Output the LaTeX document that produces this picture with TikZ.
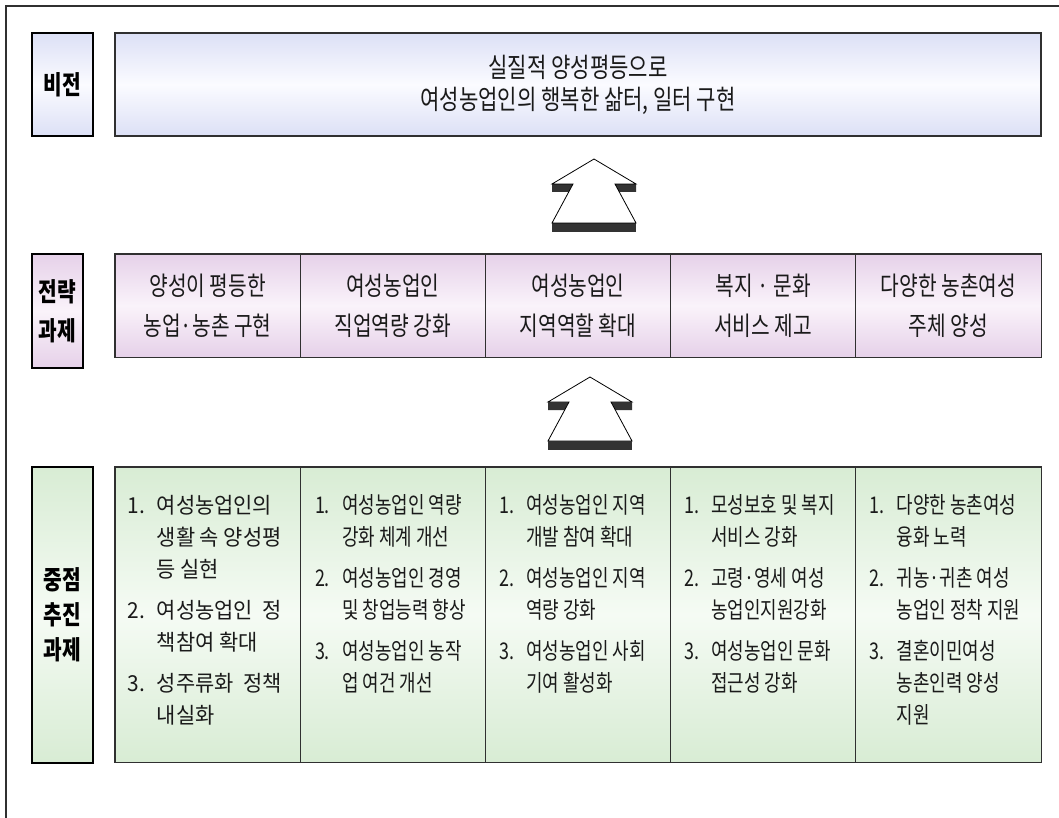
\documentclass[tikz,border=0pt]{standalone}
\usepackage{fontspec}
\newfontfamily\kr[FakeStretch=0.78]{Noto Sans CJK KR}
\newfontfamily\krw[FakeStretch=0.95]{Noto Sans CJK KR}
\usetikzlibrary{calc}
\definecolor{lavtop}{HTML}{DCE0F6}
\definecolor{lavmid}{HTML}{FBFBFF}
\definecolor{pinktop}{HTML}{E6D1E9}
\definecolor{pinkmid}{HTML}{FAF3FA}
\definecolor{greentop}{HTML}{D8ECD4}
\definecolor{greenmid}{HTML}{F5FBF4}
\definecolor{arrowdark}{HTML}{333333}
\definecolor{framecol}{HTML}{303030}
\definecolor{textcol}{HTML}{1A1A1A}
\newcommand\numlab[1]{\makebox[27pt][l]{#1}}
\newcommand\contline{\hspace*{27pt}}
\newcommand\numlabw[1]{\makebox[29pt][l]{#1}}
\newcommand\contlinew{\hspace*{29pt}}
\begin{document}
\begin{tikzpicture}[x=1pt,y=-1pt,
  lavshade/.style={top color=lavtop, bottom color=lavtop, middle color=lavmid},
  pinkshade/.style={top color=pinktop, bottom color=pinktop, middle color=pinkmid},
  greenshade/.style={top color=greentop, bottom color=greentop, middle color=greenmid},
  labelbox/.style={draw=black, line width=2.2pt, inner sep=0pt, align=center, text=black,
    font=\kr\bfseries\fontsize{26}{35}\selectfont},
  mainbox/.style={draw=framecol, line width=1.2pt, inner sep=0pt, text=textcol},
  cell/.style={draw=framecol, line width=0.8pt, inner sep=0pt, minimum width=185.2pt},
  stratcell/.style={cell, pinkshade, minimum height=103pt, align=center, text=textcol,
    font=\kr\fontsize{26}{40}\selectfont},
  taskcell/.style={cell, greenshade, minimum height=295pt},
  celltext/.style={inner sep=0pt, anchor=north west, align=left, text=textcol,
    font=\kr\fontsize{23}{32}\selectfont},
  uparrow/.pic={
    \fill[arrowdark] (-42,25) -- (-21,25) -- (-25,33) -- (-42,33) -- cycle;
    \fill[arrowdark] (42,25) -- (21,25) -- (25,33) -- (42,33) -- cycle;
    \fill[arrowdark] (-42,64) rectangle (42,73);
    \draw[fill=white, line width=0.8pt, line join=miter]
      (0,0) -- (-42,25) -- (-21,25) -- (-42,64) -- (42,64) -- (21,25) -- (42,25) -- cycle;
  }]
\useasboundingbox (0,0) rectangle (1059,818);
\draw[framecol, line width=1.2pt] (1059,6) -- (6,6) -- (6,818);

% vision row
\node[labelbox, lavshade, minimum width=61pt, minimum height=103pt] (visionlbl) at (62.5,84.5) {비전};
\node[mainbox, lavshade, minimum width=926pt, minimum height=103pt, align=center,
  font=\kr\fontsize{27}{32}\selectfont] (vision) at (578,84.5)
  {실질적 양성평등으로\\여성농업인의 행복한 삶터, 일터 구현};

\pic at (594,159) {uparrow};

% strategy row
\node[labelbox, pinkshade, minimum width=51pt, minimum height=114pt,
  font=\kr\bfseries\fontsize{26}{39}\selectfont] (stratlbl) at (57.5,311) {전략\\과제};
\node[stratcell] (s1) at (207.6,305.5) {양성이 평등한\\농업·농촌 구현};
\node[stratcell] (s2) at (392.8,305.5) {여성농업인\\직업역량 강화};
\node[stratcell] (s3) at (578,305.5) {여성농업인\\지역역할 확대};
\node[stratcell] (s4) at (763.2,305.5) {복지 · 문화\\서비스 제고};
\node[stratcell] (s5) at (948.4,305.5) {다양한 농촌여성\\주체 양성};
\draw[framecol, line width=1.2pt] (s1.north west) rectangle (s5.south east);

\pic at (590,377) {uparrow};

% task row
\node[labelbox, greenshade, minimum width=61pt, minimum height=296pt] (tasklbl) at (62.5,615) {중점\\추진\\과제};
\node[taskcell] (c1) at (207.6,614.5) {};
\node[taskcell] (c2) at (392.8,614.5) {};
\node[taskcell] (c3) at (578,614.5) {};
\node[taskcell] (c4) at (763.2,614.5) {};
\node[taskcell] (c5) at (948.4,614.5) {};
\draw[framecol, line width=1.2pt] (c1.north west) rectangle (c5.south east);

\node[celltext, font=\krw\fontsize{22}{32}\selectfont] (t1) at ($(c1.north west)+(13,28)$) {%
\numlabw{1.}여성농업인의\\
\contlinew 생활 속 양성평\\
\contlinew 등 실현\\[9pt]
\numlabw{2.}여성농업인\ \ 정\\
\contlinew 책참여 확대\\[9pt]
\numlabw{3.}성주류화\ \ 정책\\
\contlinew 내실화};
\node[celltext] (t2) at ($(c2.north west)+(15,28)$) {%
\numlab{1.}여성농업인 역량\\
\contline 강화 체계 개선\\[9pt]
\numlab{2.}여성농업인 경영\\
\contline 및 창업능력 향상\\[9pt]
\numlab{3.}여성농업인 농작\\
\contline 업 여건 개선};
\node[celltext] (t3) at ($(c3.north west)+(14,28)$) {%
\numlab{1.}여성농업인 지역\\
\contline 개발 참여 확대\\[9pt]
\numlab{2.}여성농업인 지역\\
\contline 역량 강화\\[9pt]
\numlab{3.}여성농업인 사회\\
\contline 기여 활성화};
\node[celltext] (t4) at ($(c4.north west)+(14,28)$) {%
\numlab{1.}모성보호 및 복지\\
\contline 서비스 강화\\[9pt]
\numlab{2.}고령·영세 여성\\
\contline 농업인지원강화\\[9pt]
\numlab{3.}여성농업인 문화\\
\contline 접근성 강화};
\node[celltext] (t5) at ($(c5.north west)+(14,28)$) {%
\numlab{1.}다양한 농촌여성\\
\contline 융화 노력\\[9pt]
\numlab{2.}귀농·귀촌 여성\\
\contline 농업인 정착 지원\\[9pt]
\numlab{3.}결혼이민여성\\
\contline 농촌인력 양성\\
\contline 지원};
\end{tikzpicture}
\end{document}
